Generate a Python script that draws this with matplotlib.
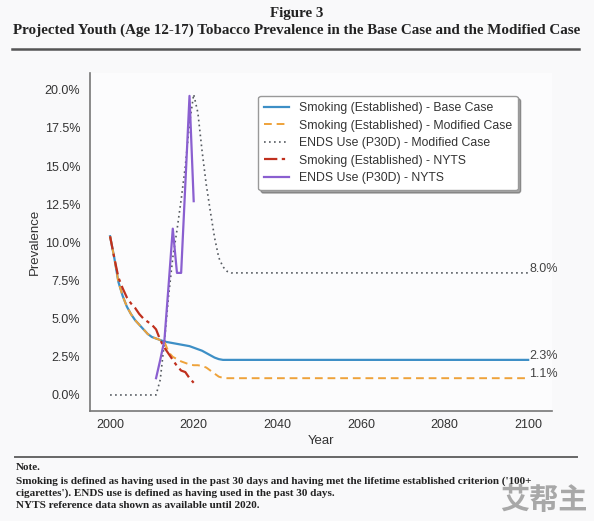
import matplotlib
matplotlib.use("Agg")
import matplotlib.pyplot as plt
from matplotlib.ticker import PercentFormatter
from matplotlib.lines import Line2D

# ---------------- data (percent) ----------------
base_years = [2000, 2001, 2002, 2003, 2004, 2005, 2006, 2007, 2008, 2009, 2010,
              2011, 2012, 2013, 2014, 2015, 2016, 2017, 2018, 2019, 2020, 2021,
              2022, 2023, 2024, 2025, 2026, 2027, 2100]
base_smoking = [10.4, 9.0, 7.4, 6.5, 5.8, 5.3, 4.9, 4.6, 4.3, 4.0, 3.8,
                3.7, 3.6, 3.5, 3.45, 3.4, 3.35, 3.3, 3.25, 3.2, 3.1, 3.0,
                2.9, 2.75, 2.6, 2.45, 2.35, 2.3, 2.3]

mod_years = [2000, 2001, 2002, 2003, 2004, 2005, 2006, 2007, 2008, 2009, 2010,
             2011, 2012, 2013, 2014, 2015, 2016, 2017, 2018, 2019, 2020, 2021,
             2022, 2023, 2024, 2025, 2026, 2027, 2028, 2100]
mod_smoking = [10.4, 9.0, 7.4, 6.5, 5.8, 5.3, 4.9, 4.6, 4.3, 4.0, 3.8,
               3.7, 3.6, 3.5, 2.8, 2.5, 2.35, 2.2, 2.1, 2.0, 1.95, 1.95,
               1.9, 1.8, 1.6, 1.4, 1.2, 1.12, 1.1, 1.1]

ends_years = [2000, 2011, 2012, 2013, 2014, 2015, 2016, 2017, 2018, 2019, 2020,
              2021, 2022, 2023, 2024, 2025, 2026, 2027, 2028, 2029, 2100]
ends_mod = [0.0, 0.0, 1.0, 3.5, 6.5, 9.0, 10.8, 12.8, 15.0, 17.8, 19.7,
            18.5, 16.0, 13.8, 12.0, 10.3, 9.0, 8.4, 8.1, 8.0, 8.0]

nyts_smk_years = [2000, 2001, 2002, 2003, 2004, 2005, 2006, 2007, 2008, 2009, 2010,
                  2011, 2012, 2013, 2014, 2015, 2016, 2017, 2018, 2019, 2020]
nyts_smoking = [10.4, 9.0, 7.7, 7.0, 6.4, 6.0, 5.7, 5.3, 5.0, 4.8, 4.6,
                4.3, 3.6, 3.1, 2.7, 2.3, 1.9, 1.6, 1.5, 1.1, 0.8]

nyts_ends_years = [2011, 2012, 2013, 2014, 2015, 2016, 2017, 2018, 2019, 2020]
nyts_ends = [1.1, 2.3, 3.6, 7.2, 10.9, 8.0, 8.0, 13.8, 19.6, 12.7]

series_labels = ["Smoking (Established) - Base Case",
                 "Smoking (Established) - Modified Case",
                 "ENDS Use (P30D) - Modified Case",
                 "Smoking (Established) - NYTS",
                 "ENDS Use (P30D) - NYTS"]
end_labels = ["8.0%", "2.3%", "1.1%"]
end_values = [ends_mod[-1], base_smoking[-1], mod_smoking[-1]]
x_ticks = [2000, 2020, 2040, 2060, 2080, 2100]
y_ticks = [0, 2.5, 5, 7.5, 10, 12.5, 15, 17.5, 20]

# ---------------- figure ----------------
plt.rcParams['font.family'] = ['Liberation Sans', 'DejaVu Sans']
W, H = 594, 521
fig = plt.figure(figsize=(W / 100, H / 100), dpi=100, facecolor='#f9f9fa')

ax = fig.add_axes([90 / W, 1 - 411 / H, (552 - 90) / W, (411 - 73) / H])
ax.set_facecolor('#fcfcfd')

c_blue = '#3d8fc6'
c_orange = '#eea23a'
c_gray = '#555a60'
c_red = '#c0301e'
c_purple = '#8a5fd0'

ax.plot(base_years, base_smoking, color=c_blue, lw=1.6, label=series_labels[0])
ax.plot(mod_years, mod_smoking, color=c_orange, lw=1.4, ls=(0, (4, 2.5)), label=series_labels[1])
ax.plot(ends_years, ends_mod, color=c_gray, lw=1.2, ls=(0, (1, 2)), label=series_labels[2])
ax.plot(nyts_smk_years, nyts_smoking, color=c_red, lw=1.6, ls=(0, (6, 2, 1.5, 2)), label=series_labels[3])
ax.plot(nyts_ends_years, nyts_ends, color=c_purple, lw=1.6, label=series_labels[4])

for lab, val in zip(end_labels, end_values):
    ax.annotate(lab, xy=(2100, val), xytext=(1, 3), textcoords='offset points',
                ha='left', va='center', fontsize=9, color='#444444')

ax.set_xlim(1995.2, 2105.7)
ax.set_ylim(-1.05, 21.1)
ax.set_xticks(x_ticks)
ax.set_yticks(y_ticks)
ax.yaxis.set_major_formatter(PercentFormatter(xmax=100, decimals=1))
ax.tick_params(axis='both', length=0, labelsize=9, labelcolor='#333333')
ax.tick_params(axis='y', pad=7)
ax.tick_params(axis='x', pad=6)
for s in ['top', 'right']:
    ax.spines[s].set_visible(False)
for s in ['left', 'bottom']:
    ax.spines[s].set_color('#777777')
    ax.spines[s].set_linewidth(1.2)
ax.set_xlabel('Year', fontsize=9.5, color='#333333', labelpad=3)
ax.set_ylabel('Prevalence', fontsize=9.5, color='#333333', labelpad=3)

leg = ax.legend(loc='upper left', bbox_to_anchor=(0.351, 0.950), fontsize=8.8,
                frameon=True, fancybox=True, shadow=True, labelspacing=0.45,
                borderpad=0.5, handlelength=2.0, handletextpad=0.8)
leg.get_frame().set_edgecolor('#999999')
leg.get_frame().set_facecolor('white')
for t in leg.get_texts():
    t.set_color('#333333')

# ---------------- title, rules, note ----------------
serif = ['Liberation Serif', 'DejaVu Serif']
fig.text(0.5, 1 - 14 / H, 'Figure 3', ha='center', va='center', fontsize=10.8,
         fontweight='bold', family=serif, color='#222222')
fig.text(0.5, 1 - 30 / H,
         'Projected Youth (Age 12-17) Tobacco Prevalence in the Base Case and the Modified Case',
         ha='center', va='center', fontsize=10.8, fontweight='bold', family=serif, color='#222222')
fig.add_artist(Line2D([12 / W, 579 / W], [1 - 49 / H, 1 - 49 / H], color='#555555', lw=1.8))
fig.add_artist(Line2D([15 / W, 577 / W], [1 - 457 / H, 1 - 457 / H], color='#666666', lw=1.4))

note_lines = ["Note.",
              "Smoking is defined as having used in the past 30 days and having met the lifetime established criterion ('100+",
              "cigarettes'). ENDS use is defined as having used in the past 30 days.",
              "NYTS reference data shown as available until 2020."]
note_y = [467, 481, 493, 505]
for txt, yy in zip(note_lines, note_y):
    fig.text(16 / W, 1 - yy / H, txt, ha='left', va='center', fontsize=8.0,
             fontweight='bold', family=serif, color='#222222')

fig.text(544 / W, 1 - 500 / H, '艾帮主', ha='center', va='center', fontsize=21,
         fontweight='bold', family=['Noto Sans CJK SC', 'DejaVu Sans'], color='#a8a8a8')

fig.savefig('out.png', dpi=100, facecolor=fig.get_facecolor())
